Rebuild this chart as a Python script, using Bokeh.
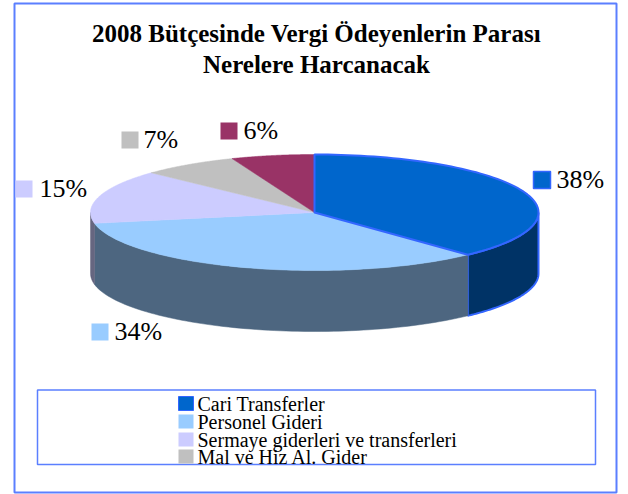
import math
from bokeh.plotting import figure
from bokeh.models import Range1d
from bokeh.core.properties import value
from bokeh.embed import file_html
from bokeh.resources import INLINE

title_lines = ["2008 Bütçesinde Vergi Ödeyenlerin Parası", "Nerelere Harcanacak"]
shares = [38, 34, 15, 7, 6]
share_labels = ["38%", "34%", "15%", "7%", "6%"]
legend_names = ["Cari Transferler", "Personel Gideri", "Sermaye giderleri ve transferleri", "Mal ve Hiz Al. Gider"]
top_colors = ["#0066CC", "#99CCFF", "#CCCCFF", "#C0C0C0", "#993366"]
side_colors = ["#003366", "#4D6680", "#666680", "#606060", "#4D1A33"]
label_boxes = [(533, 171), (91, 323), (15, 180), (121, 131), (220, 122)]
label_text_x = [556, 114, 39, 143, 243]
legend_rows = [403, 421, 439, 456]

CX, CY, RX, RY, DEPTH = 314, 212, 224, 58, 61
BLUE = "#3366FF"
FRAME = "#5B7FFF"
SERIF = value("Liberation Serif")

p = figure(width=628, height=494, output_backend="svg", toolbar_location=None,
           x_range=Range1d(0, 628), y_range=Range1d(494, 0), min_border=0)
p.axis.visible = False
p.grid.visible = False
p.outline_line_color = None
p.background_fill_color = "white"
p.border_fill_color = "white"
p.styles = {"position": "absolute", "left": "0px", "top": "0px"}


def arc(a0, a1, dy=0, n=80):
    out = []
    for i in range(n + 1):
        a = math.radians(a0 + (a1 - a0) * i / n)
        out.append((CX + RX * math.sin(a), CY + dy - RY * math.cos(a)))
    return out


# frame and legend box
p.quad(left=[14], right=[616], top=[3], bottom=[492], fill_color="white", line_color=FRAME, line_width=2)
p.quad(left=[37], right=[595], top=[389.5], bottom=[464], fill_color="white", line_color=FRAME, line_width=1.5)

total = sum(shares)
angles = [0]
for v in shares:
    angles.append(angles[-1] + 360 * v / total)

# side walls (only the near half of the ellipse shows)
for i, v in enumerate(shares):
    a0, a1 = max(angles[i], 90), min(angles[i + 1], 270)
    if a1 <= a0:
        continue
    top = arc(a0, a1)
    bot = arc(a0, a1, DEPTH)[::-1]
    pts = top + bot
    border = BLUE if i == 0 else side_colors[i]
    p.patch([q[0] for q in pts], [q[1] for q in pts], fill_color=side_colors[i],
            line_color=border, line_width=2 if i == 0 else 0.5)

# top faces, first slice last because of its outline
for i in [1, 2, 3, 4, 0]:
    pts = [(CX, CY)] + arc(angles[i], angles[i + 1])
    border = BLUE if i == 0 else top_colors[i]
    p.patch([q[0] for q in pts], [q[1] for q in pts], fill_color=top_colors[i],
            line_color=border, line_width=2 if i == 0 else 0.5)

# data labels
for i, (bx, by) in enumerate(label_boxes):
    p.quad(left=[bx], right=[bx + 17], top=[by], bottom=[by + 17], fill_color=top_colors[i],
           line_color=BLUE if i == 0 else None, line_width=1.5)
    p.text(x=[label_text_x[i]], y=[by + 8], text=[share_labels[i]], text_font=SERIF,
           text_font_size="26px", text_baseline="middle", text_align="left", text_color="black")

# legend
for i, (name, ry) in enumerate(zip(legend_names, legend_rows)):
    p.quad(left=[178], right=[193], top=[ry - 7], bottom=[ry + 7], fill_color=top_colors[i],
           line_color=BLUE if i == 0 else None, line_width=1)
    p.text(x=[197], y=[ry], text=[name], text_font=SERIF, text_font_size="20px",
           text_baseline="middle", text_align="left", text_color="black")

# title
for line, ty in zip(title_lines, [33, 64]):
    p.text(x=[316], y=[ty], text=[line], text_font=SERIF, text_font_size="25px",
           text_font_style="bold", text_baseline="middle", text_align="center", text_color="black")

open("out.html", "w").write(file_html(p, INLINE))
